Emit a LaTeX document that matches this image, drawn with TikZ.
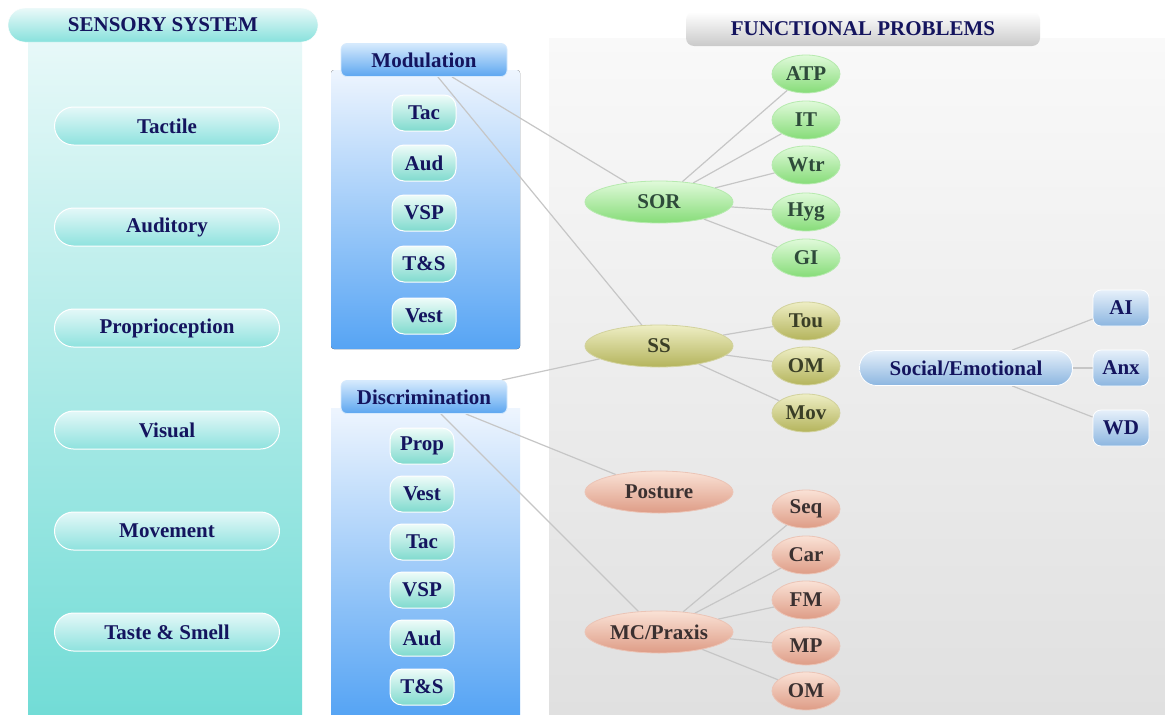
\documentclass[tikz,border=0pt]{standalone}
\usepackage{fontspec}
\setmainfont{Liberation Serif}
\usetikzlibrary{shapes.geometric,shadings}
\pgfdeclarelayer{bg}\pgfdeclarelayer{lines}
\pgfsetlayers{bg,lines,main}
\definecolor{navy}{HTML}{14145E}
\definecolor{cyTop}{HTML}{EAF9F9}
\definecolor{cyBot}{HTML}{72DCD6}
\definecolor{pillTop}{HTML}{E4F8F8}
\definecolor{pillBot}{HTML}{8EE2DE}
\definecolor{blTop}{HTML}{EEF5FE}
\definecolor{blBot}{HTML}{56A4F4}
\definecolor{hdTop}{HTML}{D6EAFD}
\definecolor{hdBot}{HTML}{5CA6F0}
\definecolor{spTop}{HTML}{EEFCF9}
\definecolor{spBot}{HTML}{80DACE}
\definecolor{gyTop}{HTML}{F9F9F9}
\definecolor{gyBot}{HTML}{E0E0E0}
\definecolor{grTop}{HTML}{E0FADA}
\definecolor{grBot}{HTML}{86DC78}
\definecolor{grTxt}{HTML}{2E4A3A}
\definecolor{olTop}{HTML}{EEEEC4}
\definecolor{olBot}{HTML}{B4B45C}
\definecolor{olTxt}{HTML}{3A3E26}
\definecolor{saTop}{HTML}{FAE2D6}
\definecolor{saBot}{HTML}{DE9C86}
\definecolor{saTxt}{HTML}{3A3030}
\definecolor{sbTop}{HTML}{E6F0FA}
\definecolor{sbBot}{HTML}{8CB6E0}
\definecolor{lnC}{HTML}{C6C6C6}
\begin{document}
\begin{tikzpicture}[x=1pt,y=-1pt,
  font=\fontsize{21}{25}\selectfont\bfseries,
  lpill/.style={rectangle, rounded corners=19pt, minimum width=225pt, minimum height=38pt, inner sep=0pt,
    top color=pillTop, bottom color=pillBot, draw=white, line width=1pt, text=navy},
  spill/.style={rectangle, rounded corners=12pt, minimum width=64pt, minimum height=36pt, inner sep=0pt,
    top color=spTop, bottom color=spBot, draw=white, line width=1pt, text=navy},
  bhead/.style={rectangle, rounded corners=6pt, minimum width=166pt, minimum height=33pt, inner sep=0pt,
    top color=hdTop, bottom color=hdBot, draw=hdTop, line width=0.8pt, text=navy},
  bigell/.style={ellipse, inner sep=0pt, minimum width=148pt, minimum height=42pt, line width=0.8pt},
  smell/.style={ellipse, inner sep=0pt, minimum width=68pt, minimum height=38pt, line width=0.8pt},
  grn/.style={top color=grTop, bottom color=grBot, draw=grBot!60!white, text=grTxt},
  olv/.style={top color=olTop, bottom color=olBot, draw=olBot!60!white, text=olTxt},
  sal/.style={top color=saTop, bottom color=saBot, draw=saBot!60!white, text=saTxt},
  sbox/.style={rectangle, rounded corners=8pt, minimum width=56pt, minimum height=36pt, inner sep=0pt,
    top color=sbTop, bottom color=sbBot, draw=white, line width=0.8pt, text=navy},
  conn/.style={draw=lnC, line width=1.2pt}]
\useasboundingbox (0,0) rectangle (1165,715);
\begin{pgfonlayer}{bg}
  \fill[white] (0,0) rectangle (1165,715);
  % left panel
  \fill[top color=cyTop, bottom color=cyBot] (28,25) rectangle (302,715);
  % modulation / discrimination panels
  \fill[top color=blTop, bottom color=blBot, rounded corners=3pt] (331,70) rectangle (520,349);
  \fill[top color=blTop, bottom color=blBot] (331,408) rectangle (520,715);
  % right grey panel
  \fill[top color=gyTop, bottom color=gyBot] (549,38) rectangle (1165,715);
\end{pgfonlayer}

% headers
\node[rectangle, rounded corners=17pt, minimum width=310pt, minimum height=34pt, inner sep=0pt,
  top color=cyTop, bottom color=cyBot!85!white, draw=white, text=navy] (hs) at (163,25) {SENSORY SYSTEM};
\node[rectangle, rounded corners=8pt, minimum width=354pt, minimum height=34pt, inner sep=0pt,
  top color=white, bottom color=gyBot!90!black, draw=none, text=navy] (hf) at (863,29) {FUNCTIONAL PROBLEMS};

% left pills
\node[lpill] (tact) at (167,126) {Tactile};
\node[lpill] (audi) at (167,227) {Auditory};
\node[lpill] (prop) at (167,328) {Proprioception};
\node[lpill] (visu) at (167,430) {Visual};
\node[lpill] (move) at (167,531) {Movement};
\node[lpill] (tast) at (167,632) {Taste \& Smell};

% modulation
\node[bhead] (mod) at (424,60) {Modulation};
\node[spill] (m1) at (424,113) {Tac};
\node[spill] (m2) at (424,163) {Aud};
\node[spill] (m3) at (424,213) {VSP};
\node[spill] (m4) at (424,264) {T\&S};
\node[spill] (m5) at (424,316) {Vest};

% discrimination
\node[bhead] (dis) at (424,397) {Discrimination};
\node[spill] (d1) at (422,446) {Prop};
\node[spill] (d2) at (422,494) {Vest};
\node[spill] (d3) at (422,542) {Tac};
\node[spill] (d4) at (422,590) {VSP};
\node[spill] (d5) at (422,638) {Aud};
\node[spill] (d6) at (422,687) {T\&S};

% functional problems
\node[bigell, grn] (sor) at (659,202) {SOR};
\node[smell, grn] (atp) at (806,74) {ATP};
\node[smell, grn] (it) at (806,120) {IT};
\node[smell, grn] (wtr) at (806,165) {Wtr};
\node[smell, grn] (hyg) at (806,212) {Hyg};
\node[smell, grn] (gi) at (806,258) {GI};

\node[bigell, olv] (ss) at (659,346) {SS};
\node[smell, olv] (tou) at (806,321) {Tou};
\node[smell, olv] (om1) at (806,366) {OM};
\node[smell, olv] (mov) at (806,413) {Mov};

\node[bigell, sal] (pos) at (659,492) {Posture};
\node[bigell, sal] (mc) at (659,632) {MC/Praxis};
\node[smell, sal] (seq) at (806,509) {Seq};
\node[smell, sal] (car) at (806,555) {Car};
\node[smell, sal] (fm) at (806,600) {FM};
\node[smell, sal] (mp) at (806,646) {MP};
\node[smell, sal] (om2) at (806,691) {OM};

\node[rectangle, rounded corners=17pt, minimum width=213pt, minimum height=35pt, inner sep=0pt,
  top color=sbTop, bottom color=sbBot, draw=white, line width=0.8pt, text=navy] (soc) at (966,368) {Social/Emotional};
\node[sbox] (ai) at (1121,308) {AI};
\node[sbox] (anx) at (1121,368) {Anx};
\node[sbox] (wd) at (1121,428) {WD};

% connectors
\begin{pgfonlayer}{lines}
  \draw[conn] (mod) -- (sor);
  \draw[conn] (mod) -- (ss);
  \draw[conn] (dis) -- (ss);
  \draw[conn] (dis) -- (pos);
  \draw[conn] (dis) -- (mc);
  \foreach \c in {atp,it,wtr,hyg,gi} \draw[conn] (sor) -- (\c);
  \foreach \c in {tou,om1,mov} \draw[conn] (ss) -- (\c);
  \foreach \c in {seq,car,fm,mp,om2} \draw[conn] (mc) -- (\c);
  \foreach \c in {ai,anx,wd} \draw[conn] (soc) -- (\c);
\end{pgfonlayer}
\end{tikzpicture}
\end{document}
